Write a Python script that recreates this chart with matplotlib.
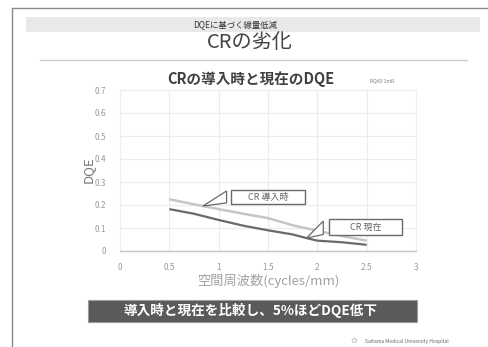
import numpy as np
import matplotlib
matplotlib.use("Agg")
import matplotlib.pyplot as plt
from matplotlib.patches import Rectangle, Polygon
from matplotlib.lines import Line2D

plt.rcParams['font.family'] = ['Noto Sans CJK JP', 'DejaVu Sans']

# Spatial frequency (cycles/mm) and DQE for the CR system
freq_intro = [0.5, 0.75, 1.0, 1.25, 1.5, 1.75, 2.0, 2.25, 2.5]
dqe_intro = [0.225, 0.203, 0.182, 0.162, 0.143, 0.112, 0.088, 0.065, 0.045]

freq_now = [0.5, 0.75, 1.0, 1.25, 1.5, 1.75, 1.9, 2.0, 2.25, 2.5]
dqe_now = [0.182, 0.162, 0.135, 0.110, 0.090, 0.072, 0.055, 0.045, 0.038, 0.027]

x_ticks = [0, 0.5, 1, 1.5, 2, 2.5, 3]
x_tick_labels = ['0', '0.5', '1', '1.5', '2', '2.5', '3']
y_ticks = [0, 0.1, 0.2, 0.3, 0.4, 0.5, 0.6, 0.7]
y_tick_labels = ['0', '0.1', '0.2', '0.3', '0.4', '0.5', '0.6', '0.7']

label_intro = 'CR 導入時'
label_now = 'CR 現在'

W, H = 489, 347
fig = plt.figure(figsize=(W / 100, H / 100), dpi=100)
fig.patch.set_facecolor('white')


def fx(px):
    return px / W


def fy(py):
    return 1 - py / H


# slide frame
fig.add_artist(Line2D([fx(12), fx(489)], [fy(7.5), fy(7.5)], color='#8a8a8a', lw=1.0))
fig.add_artist(Line2D([fx(12), fx(12)], [fy(7.5), fy(347)], color='#8a8a8a', lw=1.0))

# header band
fig.add_artist(Rectangle((fx(26), fy(32)), fx(480) - fx(26), fy(17) - fy(32),
                         facecolor='#e9e9e9', edgecolor='none'))
fig.text(fx(235), fy(24.5), 'DQEに基づく線量低減', ha='center', va='center',
         fontsize=6, color='#333333')
fig.text(fx(250), fy(43), 'CRの劣化', ha='center', va='center',
         fontsize=14.5, color='#444444')
fig.add_artist(Line2D([fx(40), fx(467)], [fy(60), fy(60)], color='#cfcfcf', lw=1.0))

# chart title
fig.text(fx(251), fy(79), 'CRの導入時と現在のDQE', ha='center', va='center',
         fontsize=10.5, fontweight='bold', color='#404040')
fig.text(fx(382), fy(81), 'RQA5 1mR', ha='center', va='center',
         fontsize=3.5, color='#777777')

# plot area
ax = fig.add_axes([fx(120), fy(251), fx(416) - fx(120), fy(90) - fy(251)])
ax.set_xlim(0, 3)
ax.set_ylim(0, 0.7)
ax.set_xticks(x_ticks)
ax.set_xticklabels(x_tick_labels)
ax.set_yticks(y_ticks)
ax.set_yticklabels(y_tick_labels)
ax.tick_params(axis='x', length=0, labelsize=6, labelcolor='#9a9a9a', pad=9)
ax.tick_params(axis='y', length=0, labelsize=6, labelcolor='#9a9a9a', pad=10)
ax.grid(True, color='#ececec', lw=0.8)
ax.set_axisbelow(True)
for side in ['top', 'right', 'left']:
    ax.spines[side].set_color('#eeeeee')
    ax.spines[side].set_linewidth(0.8)
ax.spines['bottom'].set_color('#c4c4c4')
ax.spines['bottom'].set_linewidth(1.0)

ax.plot(freq_intro, dqe_intro, color='#c6c6c6', lw=1.8, solid_capstyle='butt')
ax.plot(freq_now, dqe_now, color='#6a6a6a', lw=1.6, solid_capstyle='butt')

ax.set_xlabel('空間周波数(cycles/mm)', fontsize=9.5, color='#a0a0a0', labelpad=1)
fig.text(fx(88), fy(170), 'DQE', rotation=90, ha='center', va='center',
         fontsize=9.5, color='#777777')


def callout(x_anchor, series_x, series_y, tip_x, tip_y0, tip_y1, box, text):
    y_anchor = float(np.interp(x_anchor, series_x, series_y))
    ax.add_patch(Polygon([(x_anchor, y_anchor), (tip_x, tip_y1), (tip_x, tip_y0)],
                         closed=True, facecolor='white', edgecolor='#6a6a6a', lw=0.9,
                         zorder=4))
    bx0, by0, bx1, by1 = box
    ax.add_patch(Rectangle((bx0, by0), bx1 - bx0, by1 - by0, facecolor='white',
                           edgecolor='#6a6a6a', lw=1.0, zorder=5))
    ax.text((bx0 + bx1) / 2, (by0 + by1) / 2, text, ha='center', va='center',
            fontsize=6.5, color='#666666', zorder=6)


callout(0.84, freq_intro, dqe_intro, 1.08, 0.209, 0.261, (1.13, 0.204, 1.87, 0.265), label_intro)
callout(1.89, freq_now, dqe_now, 2.06, 0.072, 0.130, (2.12, 0.070, 2.86, 0.139), label_now)

# conclusion banner
fig.add_artist(Rectangle((fx(88), fy(322)), fx(417) - fx(88), fy(300) - fy(322),
                         facecolor='#5a5a5a', edgecolor='#9a9a9a', lw=0.8))
fig.text(fx(251), fy(311), '導入時と現在を比較し、5%ほどDQE低下', ha='center', va='center',
         fontsize=9.8, fontweight='bold', color='white')

# footer
fig.text(fx(365), fy(341), 'Saitama Medical University Hospital', ha='left', va='center',
         fontsize=3.6, color='#666666')
fig.text(fx(354), fy(340), '✿', ha='center', va='center', fontsize=6, color='#cccccc',
         family=['DejaVu Sans'])

fig.savefig('out.png', dpi=100, facecolor='white')
